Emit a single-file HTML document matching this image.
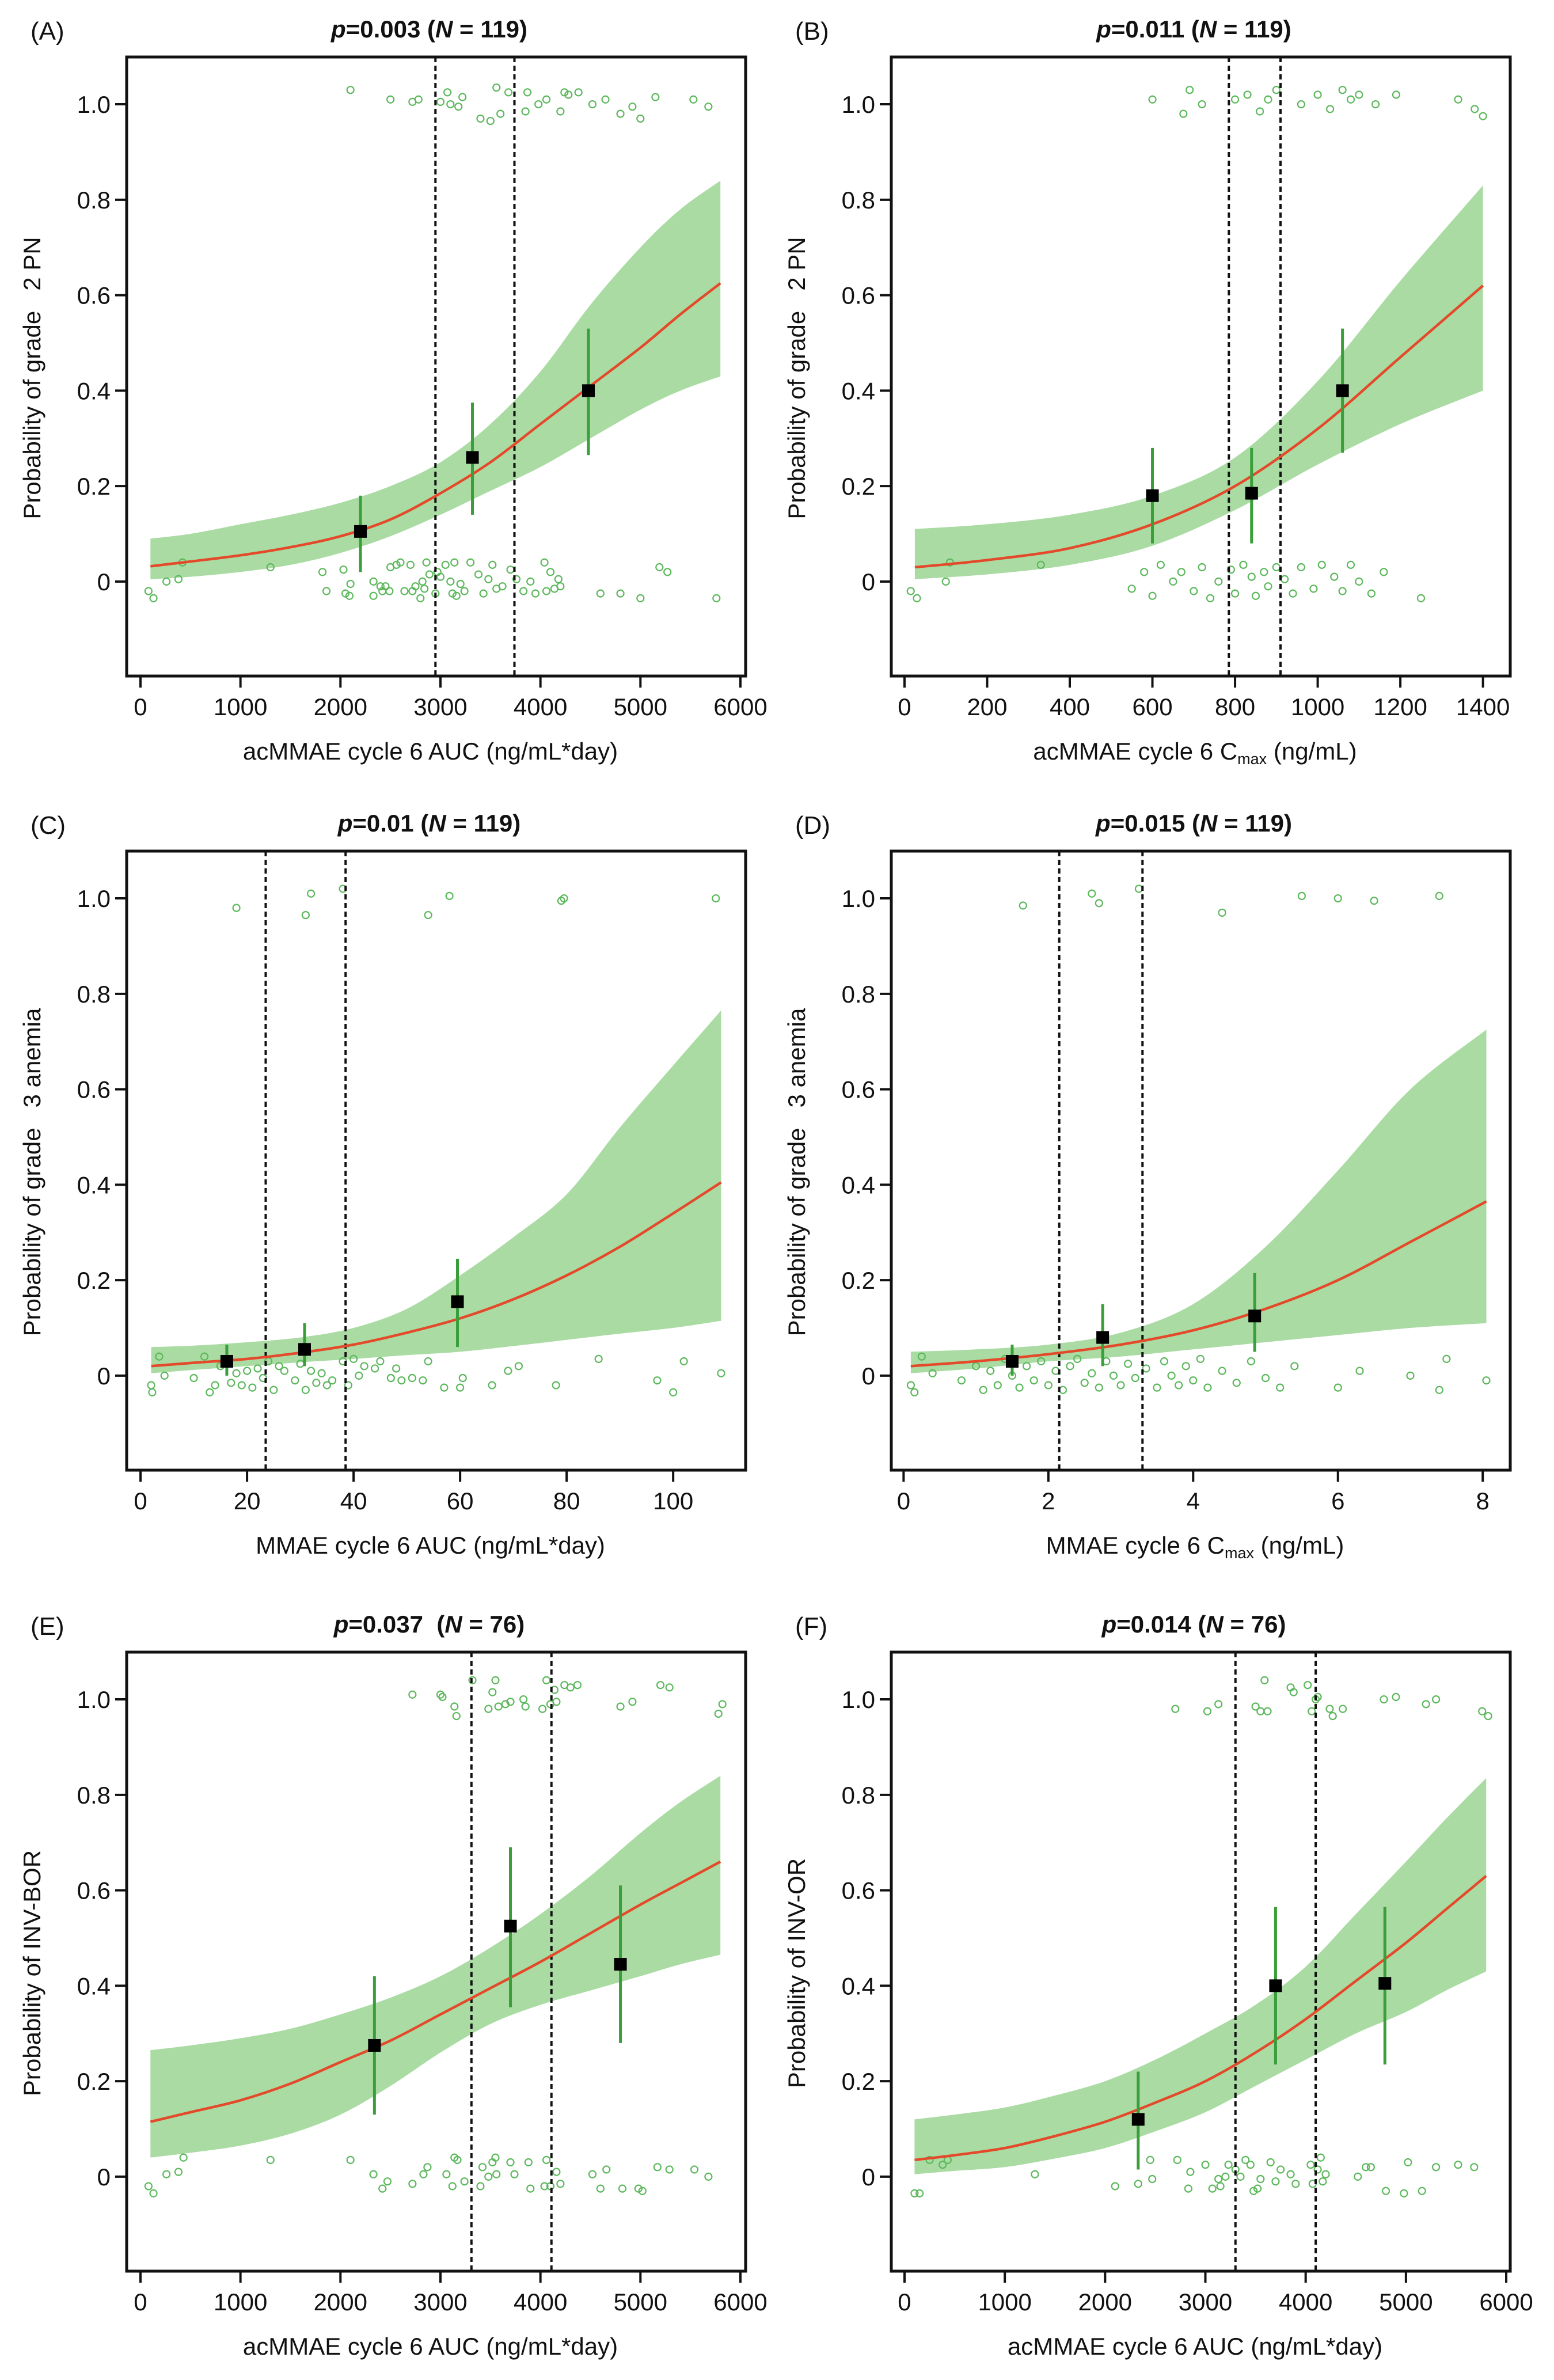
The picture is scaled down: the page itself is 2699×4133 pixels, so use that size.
<!DOCTYPE html>
<html><head><meta charset="utf-8"><style>
html,body{margin:0;padding:0;background:#fff}
svg{display:block}
text{font-family:"Liberation Sans",Arial,sans-serif;fill:#111}
</style></head><body>
<svg id="fig" width="2699" height="4133" viewBox="0 0 2699 4133" xmlns="http://www.w3.org/2000/svg"></svg>
<script>
// ---------- Panel A ----------
const A_fitX=[100,500,1000,1500,2000,2500,3000,3500,4000,4500,5000,5400,5800];
const A_fitY=[0.032,0.042,0.055,0.072,0.095,0.13,0.185,0.25,0.33,0.41,0.49,0.56,0.625];
const A_lo=[0.005,0.01,0.02,0.035,0.06,0.095,0.14,0.19,0.24,0.3,0.36,0.4,0.43];
const A_hi=[0.09,0.1,0.12,0.14,0.165,0.2,0.25,0.33,0.44,0.58,0.7,0.78,0.84];
const A_binX=[2200,3320,4480];
const A_binY=[0.105,0.26,0.40];
const A_binLo=[0.02,0.14,0.265];
const A_binHi=[0.18,0.375,0.53];
const A_vlines=[2950,3740];
const A_ptsX=[2100,2500,2720,2780,3000,3070,3100,3180,3220,3400,3500,3560,3600,3680,3850,3870,3980,4060,4200,4240,4280,4380,4520,4650,4800,4920,5000,5150,5530,5680,
80,130,260,380,420,1300,1820,1860,2030,2050,2090,2100,2330,2330,2400,2420,2450,2490,2500,2560,2600,2640,2700,2720,2750,2800,2820,2840,2860,2890,2950,2970,3000,3050,3100,3120,3140,3160,3200,3240,3300,3380,3430,3480,3520,3560,3620,3700,3760,3830,3900,3950,4040,4060,4100,4140,4180,4200,4600,4800,5000,5190,5270,5760];
const A_ptsY=[1.03,1.01,1.005,1.01,1.005,1.025,1.0,0.995,1.015,0.97,0.965,1.035,0.98,1.025,0.985,1.025,1.0,1.01,0.985,1.025,1.02,1.025,1.0,1.01,0.98,0.995,0.97,1.015,1.01,0.995,
-0.02,-0.035,0.0,0.005,0.04,0.03,0.02,-0.02,0.025,-0.025,-0.03,-0.005,-0.03,0.0,-0.01,-0.02,-0.01,-0.02,0.03,0.035,0.04,-0.02,0.035,-0.02,-0.01,-0.035,0.0,-0.015,0.04,0.015,-0.025,0.02,0.01,0.035,0.0,-0.025,0.04,-0.03,-0.005,-0.02,0.04,0.015,-0.025,0.005,0.035,-0.015,-0.01,0.025,0.005,-0.02,0.0,-0.025,0.04,-0.02,0.02,-0.015,0.005,-0.01,-0.025,-0.025,-0.035,0.03,0.02,-0.035];
const A_xticks=[0,1000,2000,3000,4000,5000,6000];

// ---------- Panel B ----------
const B_fitX=[25,200,400,600,800,1000,1200,1400];
const B_fitY=[0.03,0.045,0.07,0.12,0.2,0.32,0.47,0.62];
const B_lo=[0.005,0.015,0.035,0.075,0.15,0.245,0.33,0.4];
const B_hi=[0.11,0.12,0.14,0.18,0.26,0.42,0.63,0.83];
const B_binX=[600,840,1060];
const B_binY=[0.18,0.185,0.40];
const B_binLo=[0.08,0.08,0.27];
const B_binHi=[0.28,0.28,0.53];
const B_vlines=[785,910];
const B_ptsX=[600,675,690,720,800,830,860,880,900,960,1000,1030,1060,1080,1100,1140,1190,1340,1380,1400,
15,30,100,110,330,550,580,600,620,650,670,700,720,740,760,790,800,820,840,850,870,880,900,920,940,960,990,1010,1040,1060,1080,1100,1130,1160,1250];
const B_ptsY=[1.01,0.98,1.03,1.0,1.01,1.02,0.985,1.01,1.03,1.0,1.02,0.99,1.03,1.01,1.02,1.0,1.02,1.01,0.99,0.975,
-0.02,-0.035,0.0,0.04,0.035,-0.015,0.02,-0.03,0.035,0.0,0.02,-0.02,0.03,-0.035,0.0,0.025,-0.025,0.035,0.01,-0.03,0.02,-0.01,0.03,0.005,-0.025,0.03,-0.015,0.035,0.01,-0.02,0.035,0.0,-0.025,0.02,-0.035];
const B_xticks=[0,200,400,600,800,1000,1200,1400];

// ---------- Panel C ----------
const C_fitX=[2,10,20,30,40,50,60,70,80,90,100,109];
const C_fitY=[0.02,0.027,0.035,0.048,0.065,0.09,0.12,0.16,0.21,0.27,0.34,0.405];
const C_lo=[0.005,0.012,0.02,0.028,0.035,0.043,0.05,0.062,0.075,0.088,0.1,0.115];
const C_hi=[0.06,0.063,0.07,0.08,0.1,0.14,0.21,0.29,0.38,0.52,0.65,0.765];
const C_binX=[16.2,30.8,59.5];
const C_binY=[0.03,0.055,0.155];
const C_binLo=[0.0,0.02,0.06];
const C_binHi=[0.065,0.11,0.245];
const C_vlines=[23.5,38.5];
const C_ptsX=[18,31,32,38,54,58,79,79.5,108,
2,2.2,3.5,4.5,10,12,13,14,15,17,18,19,20,21,22,23,24,25,26,27,29,30,31,32,33,34,35,36,38,39,40,41,42,44,45,47,48,49,51,53,54,57,60,60.5,66,69,71,78,86,97,100,102,109];
const C_ptsY=[0.98,0.965,1.01,1.02,0.965,1.005,0.995,1.0,1.0,
-0.02,-0.035,0.04,0.0,-0.005,0.04,-0.035,-0.02,0.02,-0.015,0.005,-0.02,0.01,-0.025,0.015,-0.005,0.03,-0.03,0.02,0.01,-0.01,0.025,-0.03,0.01,-0.015,0.005,-0.02,-0.01,0.03,-0.02,0.035,0.0,0.02,0.015,0.03,-0.005,0.015,-0.01,-0.005,-0.01,0.03,-0.025,-0.025,-0.005,-0.02,0.01,0.02,-0.02,0.035,-0.01,-0.035,0.03,0.005];
const C_xticks=[0,20,40,60,80,100];

// ---------- Panel D ----------
const D_fitX=[0.1,1,2,3,4,5,6,7,8.05];
const D_fitY=[0.02,0.03,0.045,0.065,0.095,0.14,0.2,0.28,0.365];
const D_lo=[0.005,0.015,0.03,0.04,0.055,0.07,0.085,0.1,0.11];
const D_hi=[0.05,0.055,0.065,0.09,0.15,0.27,0.43,0.6,0.725];
const D_binX=[1.5,2.75,4.85];
const D_binY=[0.03,0.08,0.125];
const D_binLo=[0.0,0.02,0.05];
const D_binHi=[0.065,0.15,0.215];
const D_vlines=[2.15,3.3];
const D_ptsX=[1.65,2.6,2.7,3.25,4.4,5.5,6.0,6.5,7.4,
0.1,0.15,0.25,0.4,0.8,1.0,1.1,1.2,1.3,1.4,1.5,1.6,1.7,1.8,1.9,2.0,2.1,2.2,2.3,2.4,2.5,2.6,2.7,2.8,2.9,3.0,3.1,3.2,3.35,3.5,3.6,3.7,3.8,3.9,4.0,4.1,4.2,4.4,4.6,4.8,5.0,5.2,5.4,6.0,6.3,7.0,7.4,7.5,8.05];
const D_ptsY=[0.985,1.01,0.99,1.02,0.97,1.005,1.0,0.995,1.005,
-0.02,-0.035,0.04,0.005,-0.01,0.02,-0.03,0.01,-0.02,0.035,0.0,-0.025,0.02,-0.01,0.03,-0.02,0.01,-0.03,0.02,0.035,-0.015,0.005,-0.025,0.03,0.0,-0.02,0.025,-0.005,0.015,-0.025,0.03,0.0,-0.02,0.02,-0.01,0.035,-0.025,0.01,-0.015,0.03,-0.005,-0.025,0.02,-0.025,0.01,0.0,-0.03,0.035,-0.01];
const D_xticks=[0,2,4,6,8];

// ---------- Panel E ----------
const E_fitX=[100,500,1000,1500,2000,2500,3000,3500,4000,4500,5000,5400,5800];
const E_fitY=[0.115,0.135,0.16,0.195,0.24,0.285,0.34,0.395,0.45,0.51,0.57,0.615,0.66];
const E_lo=[0.04,0.05,0.065,0.09,0.13,0.19,0.26,0.32,0.36,0.39,0.42,0.445,0.465];
const E_hi=[0.265,0.275,0.29,0.31,0.34,0.375,0.42,0.48,0.55,0.63,0.72,0.785,0.84];
const E_binX=[2340,3700,4800];
const E_binY=[0.275,0.525,0.445];
const E_binLo=[0.13,0.355,0.28];
const E_binHi=[0.42,0.69,0.61];
const E_vlines=[3310,4110];
const E_ptsX=[2720,3000,3020,3140,3160,3320,3480,3520,3550,3580,3650,3700,3830,3850,4020,4060,4100,4140,4160,4240,4300,4370,4800,4920,5200,5290,5780,5820,
80,130,260,380,430,1300,2100,2330,2420,2470,2720,2830,2870,3060,3120,3140,3170,3240,3400,3420,3480,3520,3550,3560,3700,3740,3880,3900,4040,4060,4100,4160,4200,4520,4600,4660,4820,4980,5020,5170,5290,5540,5680];
const E_ptsY=[1.01,1.01,1.005,0.985,0.965,1.04,0.98,1.015,1.04,0.985,0.99,0.995,1.0,0.985,0.98,1.04,0.99,1.02,0.995,1.03,1.025,1.03,0.985,0.995,1.03,1.025,0.97,0.99,
-0.02,-0.035,0.005,0.01,0.04,0.035,0.035,0.005,-0.025,-0.01,-0.015,0.005,0.02,0.005,-0.02,0.04,0.035,-0.01,-0.02,0.02,0.0,0.03,0.04,0.005,0.03,0.005,0.03,-0.025,-0.02,0.035,-0.02,0.01,-0.015,0.005,-0.025,0.015,-0.025,-0.025,-0.03,0.02,0.015,0.015,0.0];
const E_xticks=[0,1000,2000,3000,4000,5000,6000];

// ---------- Panel F ----------
const F_fitX=[100,500,1000,1500,2000,2500,3000,3500,4000,4500,5000,5400,5800];
const F_fitY=[0.035,0.045,0.06,0.085,0.115,0.155,0.2,0.26,0.33,0.41,0.49,0.56,0.63];
const F_lo=[0.005,0.012,0.02,0.038,0.06,0.095,0.135,0.19,0.245,0.3,0.345,0.39,0.43];
const F_hi=[0.12,0.13,0.145,0.17,0.2,0.245,0.3,0.36,0.44,0.55,0.66,0.75,0.835];
const F_binX=[2330,3700,4790];
const F_binY=[0.12,0.40,0.405];
const F_binLo=[0.015,0.235,0.235];
const F_binHi=[0.22,0.565,0.565];
const F_vlines=[3300,4100];
const F_ptsX=[2700,3020,3130,3500,3550,3590,3620,3850,3880,4020,4060,4100,4120,4240,4270,4370,4780,4900,5200,5300,5760,5820,
100,150,250,380,430,1300,2100,2330,2450,2470,2720,2830,2850,3000,3070,3130,3150,3200,3230,3300,3350,3400,3450,3480,3520,3550,3650,3700,3750,3850,3900,4050,4070,4120,4150,4170,4200,4520,4600,4650,4800,4980,5020,5160,5300,5520,5680];
const F_ptsY=[0.98,0.975,0.99,0.985,0.975,1.04,0.975,1.025,1.015,1.03,0.975,1.0,1.005,0.98,0.965,0.98,1.0,1.005,0.99,1.0,0.975,0.965,
-0.035,-0.035,0.035,0.025,0.035,0.005,-0.02,-0.015,0.035,-0.005,0.035,-0.025,0.01,0.025,-0.025,-0.005,-0.02,0.0,0.025,0.015,0.0,0.035,0.025,-0.03,-0.025,-0.005,0.03,-0.01,0.015,0.005,-0.015,0.025,-0.015,0.015,0.04,-0.01,0.005,0.0,0.02,0.02,-0.03,-0.035,0.03,-0.03,0.02,0.025,0.02];
const F_xticks=[0,1000,2000,3000,4000,5000,6000];

const yTicks=[0,0.2,0.4,0.6,0.8,1.0];
const yTickLabels=["0","0.2","0.4","0.6","0.8","1.0"];

const NS="http://www.w3.org/2000/svg";
const svg=document.getElementById('fig');
function mk(tag,attrs,parent){const e=document.createElementNS(NS,tag);for(const k in attrs)e.setAttribute(k,attrs[k]);(parent||svg).appendChild(e);return e;}
function smooth(pts){
  let d="M"+pts[0][0].toFixed(1)+","+pts[0][1].toFixed(1);
  for(let i=0;i<pts.length-1;i++){
    const p0=pts[Math.max(0,i-1)],p1=pts[i],p2=pts[i+1],p3=pts[Math.min(pts.length-1,i+2)];
    const c1=[p1[0]+(p2[0]-p0[0])/6,p1[1]+(p2[1]-p0[1])/6];
    const c2=[p2[0]-(p3[0]-p1[0])/6,p2[1]-(p3[1]-p1[1])/6];
    d+=" C"+c1[0].toFixed(1)+","+c1[1].toFixed(1)+" "+c2[0].toFixed(1)+","+c2[1].toFixed(1)+" "+p2[0].toFixed(1)+","+p2[1].toFixed(1);
  }
  return d;
}
function smoothCont(pts){return smooth(pts).replace(/^M/,"L");}

const panels=[
 {id:'a',label:'(A)',p:'0.003',n:'119',gap:'',L:220,T:99,xmin:-138,xmax:6052,xt:A_xticks,fx:A_fitX,fy:A_fitY,lo:A_lo,hi:A_hi,bx:A_binX,by:A_binY,bl:A_binLo,bh:A_binHi,vl:A_vlines,px:A_ptsX,py:A_ptsY,ytitle:'Probability of grade \u00a0 2 PN',xtitle:'acMMAE cycle 6 AUC (ng/mL*day)'},
 {id:'b',label:'(B)',p:'0.011',n:'119',gap:'',L:1548,T:99,xmin:-32,xmax:1466,xt:B_xticks,fx:B_fitX,fy:B_fitY,lo:B_lo,hi:B_hi,bx:B_binX,by:B_binY,bl:B_binLo,bh:B_binHi,vl:B_vlines,px:B_ptsX,py:B_ptsY,ytitle:'Probability of grade \u00a0 2 PN',xtitle:'acMMAE cycle 6 C',sub:'max',xtail:' (ng/mL)'},
 {id:'c',label:'(C)',p:'0.01',n:'119',gap:'',L:220,T:1478,xmin:-2.6,xmax:113.6,xt:C_xticks,fx:C_fitX,fy:C_fitY,lo:C_lo,hi:C_hi,bx:C_binX,by:C_binY,bl:C_binLo,bh:C_binHi,vl:C_vlines,px:C_ptsX,py:C_ptsY,ytitle:'Probability of grade \u00a0 3 anemia',xtitle:'MMAE cycle 6 AUC (ng/mL*day)'},
 {id:'d',label:'(D)',p:'0.015',n:'119',gap:'',L:1548,T:1478,xmin:-0.17,xmax:8.38,xt:D_xticks,fx:D_fitX,fy:D_fitY,lo:D_lo,hi:D_hi,bx:D_binX,by:D_binY,bl:D_binLo,bh:D_binHi,vl:D_vlines,px:D_ptsX,py:D_ptsY,ytitle:'Probability of grade \u00a0 3 anemia',xtitle:'MMAE cycle 6 C',sub:'max',xtail:' (ng/mL)'},
 {id:'e',label:'(E)',p:'0.037',n:'76',gap:'\u00a0',L:220,T:2869,xmin:-138,xmax:6052,xt:E_xticks,fx:E_fitX,fy:E_fitY,lo:E_lo,hi:E_hi,bx:E_binX,by:E_binY,bl:E_binLo,bh:E_binHi,vl:E_vlines,px:E_ptsX,py:E_ptsY,ytitle:'Probability of INV-BOR',xtitle:'acMMAE cycle 6 AUC (ng/mL*day)'},
 {id:'f',label:'(F)',p:'0.014',n:'76',gap:'',L:1548,T:2869,xmin:-132,xmax:6040,xt:F_xticks,fx:F_fitX,fy:F_fitY,lo:F_lo,hi:F_hi,bx:F_binX,by:F_binY,bl:F_binLo,bh:F_binHi,vl:F_vlines,px:F_ptsX,py:F_ptsY,ytitle:'Probability of INV-OR',xtitle:'acMMAE cycle 6 AUC (ng/mL*day)'}
];
const W=1075,H=1075,YMIN=-0.198,YMAX=1.099;

panels.forEach(P=>{
  const g=mk('g',{});
  
  
  const X=v=>P.L+(v-P.xmin)/(P.xmax-P.xmin)*W;
  const Y=v=>P.T+(YMAX-v)/(YMAX-YMIN)*H;
  // band
  const up=P.fx.map((x,i)=>[X(x),Y(P.hi[i])]);
  const dn=P.fx.map((x,i)=>[X(x),Y(P.lo[i])]).reverse();
  const band=mk('path',{d:smooth(up)+" "+smoothCont(dn)+" Z",fill:'#a9dba3',stroke:'none'},g);
  
  
  // scatter
  P.px.forEach((x,i)=>{
    const c=mk('circle',{cx:X(x),cy:Y(P.py[i]),r:6,fill:'none',stroke:'#5cb85c','stroke-width':2.2},g);
    
    
  });
  // vlines
  P.vl.forEach(v=>{
    const l=mk('line',{x1:X(v),x2:X(v),y1:P.T,y2:P.T+H,stroke:'#111','stroke-width':4,'stroke-dasharray':'9,6'},g);
    
    
  });
  // fit line
  const fl=mk('path',{d:smooth(P.fx.map((x,i)=>[X(x),Y(P.fy[i])])),fill:'none',stroke:'#e4492a','stroke-width':4.5},g);
  
  
  // bins
  P.bx.forEach((x,i)=>{
    const e=mk('line',{x1:X(x),x2:X(x),y1:Y(P.bl[i]),y2:Y(P.bh[i]),stroke:'#3a9e3a','stroke-width':5},g);
    
    
    const s=mk('rect',{x:X(x)-11,y:Y(P.by[i])-11,width:22,height:22,fill:'#000'},g);
    
    
  });
  // box
  const box=mk('rect',{x:P.L,y:P.T,width:W,height:H,fill:'none',stroke:'#111','stroke-width':5},g);
  
  
  // y ticks
  yTicks.forEach((v,i)=>{
    mk('line',{x1:P.L-20,x2:P.L,y1:Y(v),y2:Y(v),stroke:'#111','stroke-width':4},g);
    const t=mk('text',{x:P.L-28,y:Y(v)+15,'text-anchor':'end','font-size':42},g);
    t.textContent=yTickLabels[i];
    
    
  });
  // x ticks
  P.xt.forEach(v=>{
    mk('line',{x1:X(v),x2:X(v),y1:P.T+H,y2:P.T+H+20,stroke:'#111','stroke-width':4},g);
    const t=mk('text',{x:X(v),y:P.T+H+68,'text-anchor':'middle','font-size':42},g);
    t.textContent=String(v);
    
    
  });
  // x title
  const xt=mk('text',{x:P.L+W/2-10,y:P.T+H+145,'text-anchor':'middle','font-size':42},g);
  
  
  if(P.sub){
    mk('tspan',{},xt).textContent=P.xtitle;
    mk('tspan',{'font-size':27,dy:8},xt).textContent=P.sub;
    mk('tspan',{dy:-8},xt).textContent=P.xtail;
  } else xt.textContent=P.xtitle;
  // y title
  const cy=P.T+H/2+20, cx=P.L-150;
  const yt=mk('text',{x:cx,y:cy,'text-anchor':'middle','font-size':42,transform:'rotate(-90 '+cx+' '+cy+')'},g);
  yt.textContent=P.ytitle;
  
  
  // panel label
  const pl=mk('text',{x:P.L-167,y:P.T-30,'font-size':44},g);
  pl.textContent=P.label;
  
  
  // title
  const tt=mk('text',{x:P.L+W/2-12,y:P.T-34,'text-anchor':'middle','font-size':42,'font-weight':'bold'},g);
  
  
  mk('tspan',{'font-style':'italic'},tt).textContent='p';
  mk('tspan',{},tt).textContent='='+P.p+' '+P.gap+'(';
  mk('tspan',{'font-style':'italic'},tt).textContent='N';
  mk('tspan',{},tt).textContent=' = '+P.n+')';
});
</script>
</body></html>
